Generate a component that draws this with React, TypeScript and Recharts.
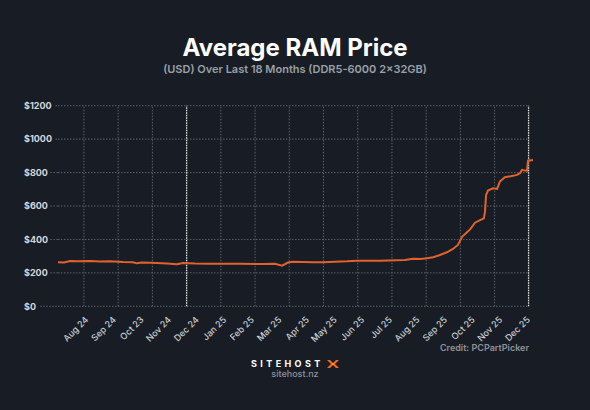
import { LineChart, Line, XAxis, YAxis, ReferenceLine } from "recharts";

// month offsets from Aug 24 (0) to Dec 25 (16)
const monthLabels = [
  "Aug 24", "Sep 24", "Oct 23", "Nov 24", "Dec 24", "Jan 25", "Feb 25", "Mar 25", "Apr 25",
  "May 25", "Jun 25", "Jul 25", "Aug 25", "Sep 25", "Oct 25", "Nov 25", "Dec 25",
];
const labelMonths = [0, 1, 2, 3, 4, 5, 6, 7, 8, 9, 10, 11, 12, 13, 14, 15, 16];

// vertical grid positions (month units); index 3 and 13 are highlighted
const gridMonths = [-0.11, 1.13, 2.37, 3.61, 4.85, 6.09, 7.33, 8.57, 9.81, 11.05, 12.29, 13.53, 14.77, 16.0];
const brightGrid = [3, 13];

const priceTicks = [0, 200, 400, 600, 800, 1000, 1200];

const priceMonths = [
  -1.05, -0.83, -0.62, -0.33, 0.11, 0.47, 0.83, 1.3, 1.67, 1.81, 1.99, 2.54, 2.9, 3.26, 3.48,
  3.91, 4.35, 4.82, 5.54, 6.38, 6.81, 7.07, 7.28, 7.46, 7.83, 8.19, 8.55, 8.99, 9.42, 9.78,
  10.25, 10.62, 11.23, 11.52, 11.81, 12.07, 12.32, 12.54, 12.79, 13.04, 13.26, 13.44, 13.59,
  13.7, 13.88, 14.06, 14.24, 14.38, 14.42, 14.46, 14.53, 14.71, 14.86, 14.96, 15.14, 15.4,
  15.58, 15.69, 15.76, 15.94, 15.98, 16.16,
];
const prices = [
  263, 262, 271, 270, 271, 268, 270, 265, 264, 257, 262, 259, 256, 251, 259,
  256, 255, 255, 255, 253, 254, 243, 262, 267, 265, 263, 263, 266, 269, 273,
  272, 273, 275, 277, 285, 283, 287, 293, 307, 323, 343, 367, 416,
  432, 460, 500, 515, 526, 566, 666, 692, 706, 702, 746, 772, 780,
  786, 796, 816, 810, 871, 875,
];

const data = priceMonths.map((m, i) => ({ m, price: prices[i] }));

const BG = "#181d25";
const GRID = "#5b616b";
const LINE = "#e2622b";

const YTick = ({ x, y, payload }: any) => {
  const label = `$${payload.value}`;
  const w = label.length * 5.1;
  return (
    <g>
      <text x={24} y={y} dy={3.2} fill="#d4d8de" fontSize={9} fontWeight={700} fontFamily="Inter">
        {label}
      </text>
      <line x1={24 + w + 6} x2={x} y1={y} y2={y} stroke={GRID} strokeDasharray="1.5 1.5" />
    </g>
  );
};

const XTick = ({ x, y, payload }: any) => {
  const ax = x + 2;
  const ay = y + 6;
  return (
    <text
      x={ax}
      y={ay}
      transform={`rotate(-45 ${ax} ${ay})`}
      textAnchor="end"
      fill="#c9cdd3"
      fontSize={9}
      fontWeight={500}
      fontFamily="Inter"
    >
      {monthLabels[payload.value]}
    </text>
  );
};

export default function App() {
  const lastGrid = gridMonths[gridMonths.length - 1];
  return (
    <div style={{ position: "absolute", left: 0, top: 0, width: 590, height: 410, background: BG, fontFamily: "Inter" }}>
      <LineChart width={590} height={410} data={data} margin={{ top: 105.7, right: 57, bottom: 63.7, left: 0 }}>
        <XAxis
          dataKey="m"
          type="number"
          domain={[priceMonths[0], priceMonths[priceMonths.length - 1]]}
          ticks={labelMonths}
          interval={0}
          tick={<XTick />}
          tickLine={false}
          axisLine={false}
          height={40}
        />
        <YAxis
          domain={[0, 1200]}
          ticks={priceTicks}
          tick={<YTick />}
          tickLine={false}
          axisLine={false}
          tickSize={0}
          tickMargin={0}
          width={58}
        />
        {priceTicks.map((v) => (
          <ReferenceLine
            key={`h${v}`}
            segment={[{ x: priceMonths[0], y: v }, { x: lastGrid, y: v }]}
            stroke={GRID}
            strokeDasharray="1.5 1.5"
            ifOverflow="visible"
          />
        ))}
        {gridMonths.map((m, i) => {
          const bright = brightGrid.includes(i);
          return (
            <ReferenceLine
              key={`v${i}`}
              x={m}
              stroke={bright ? "#e8e8e8" : GRID}
              strokeWidth={bright ? 1.3 : 1}
              strokeDasharray={bright ? "1.5 1" : "1.5 1.5"}
              ifOverflow="visible"
            />
          );
        })}
        <Line
          type="linear"
          dataKey="price"
          stroke={LINE}
          strokeWidth={2}
          dot={false}
          isAnimationActive={false}
        />
      </LineChart>
      <svg width={590} height={410} style={{ position: "absolute", left: 0, top: 0, pointerEvents: "none" }}>
        <text x={295} y={56} textAnchor="middle" fill="#ffffff" fontSize={24} fontWeight={700} fontFamily="Inter">
          Average RAM Price
        </text>
        <text x={295} y={73} textAnchor="middle" fill="#9aa0a8" fontSize={11} fontWeight={600} fontFamily="Inter">
          (USD) Over Last 18 Months (DDR5-6000 2×32GB)
        </text>
        <text x={529} y={351} textAnchor="end" fill="#8d939c" fontSize={9} fontWeight={600} fontFamily="Inter">
          Credit: PCPartPicker
        </text>
        <text x={251} y={367.3} fill="#ffffff" fontSize={9} fontWeight={700} fontFamily="Inter" letterSpacing={3.4}>
          SITEHOST
        </text>
        <g transform="translate(333 364)">
          <path d="M-6 -4 L-3 -4 L0 -1 L3 -4 L6 -4 L2 0 L6 4 L3 4 L0 1 L-3 4 L-6 4 L-2 0 Z" fill="#f26a21" />
          <path d="M-1.2 0 L0 -1 L1.2 0 L0 1 Z" fill="#ffb03a" />
        </g>
        <text x={295} y={377} textAnchor="middle" fill="#8d939c" fontSize={9} fontWeight={500} fontFamily="Inter">
          sitehost.nz
        </text>
      </svg>
    </div>
  );
}
